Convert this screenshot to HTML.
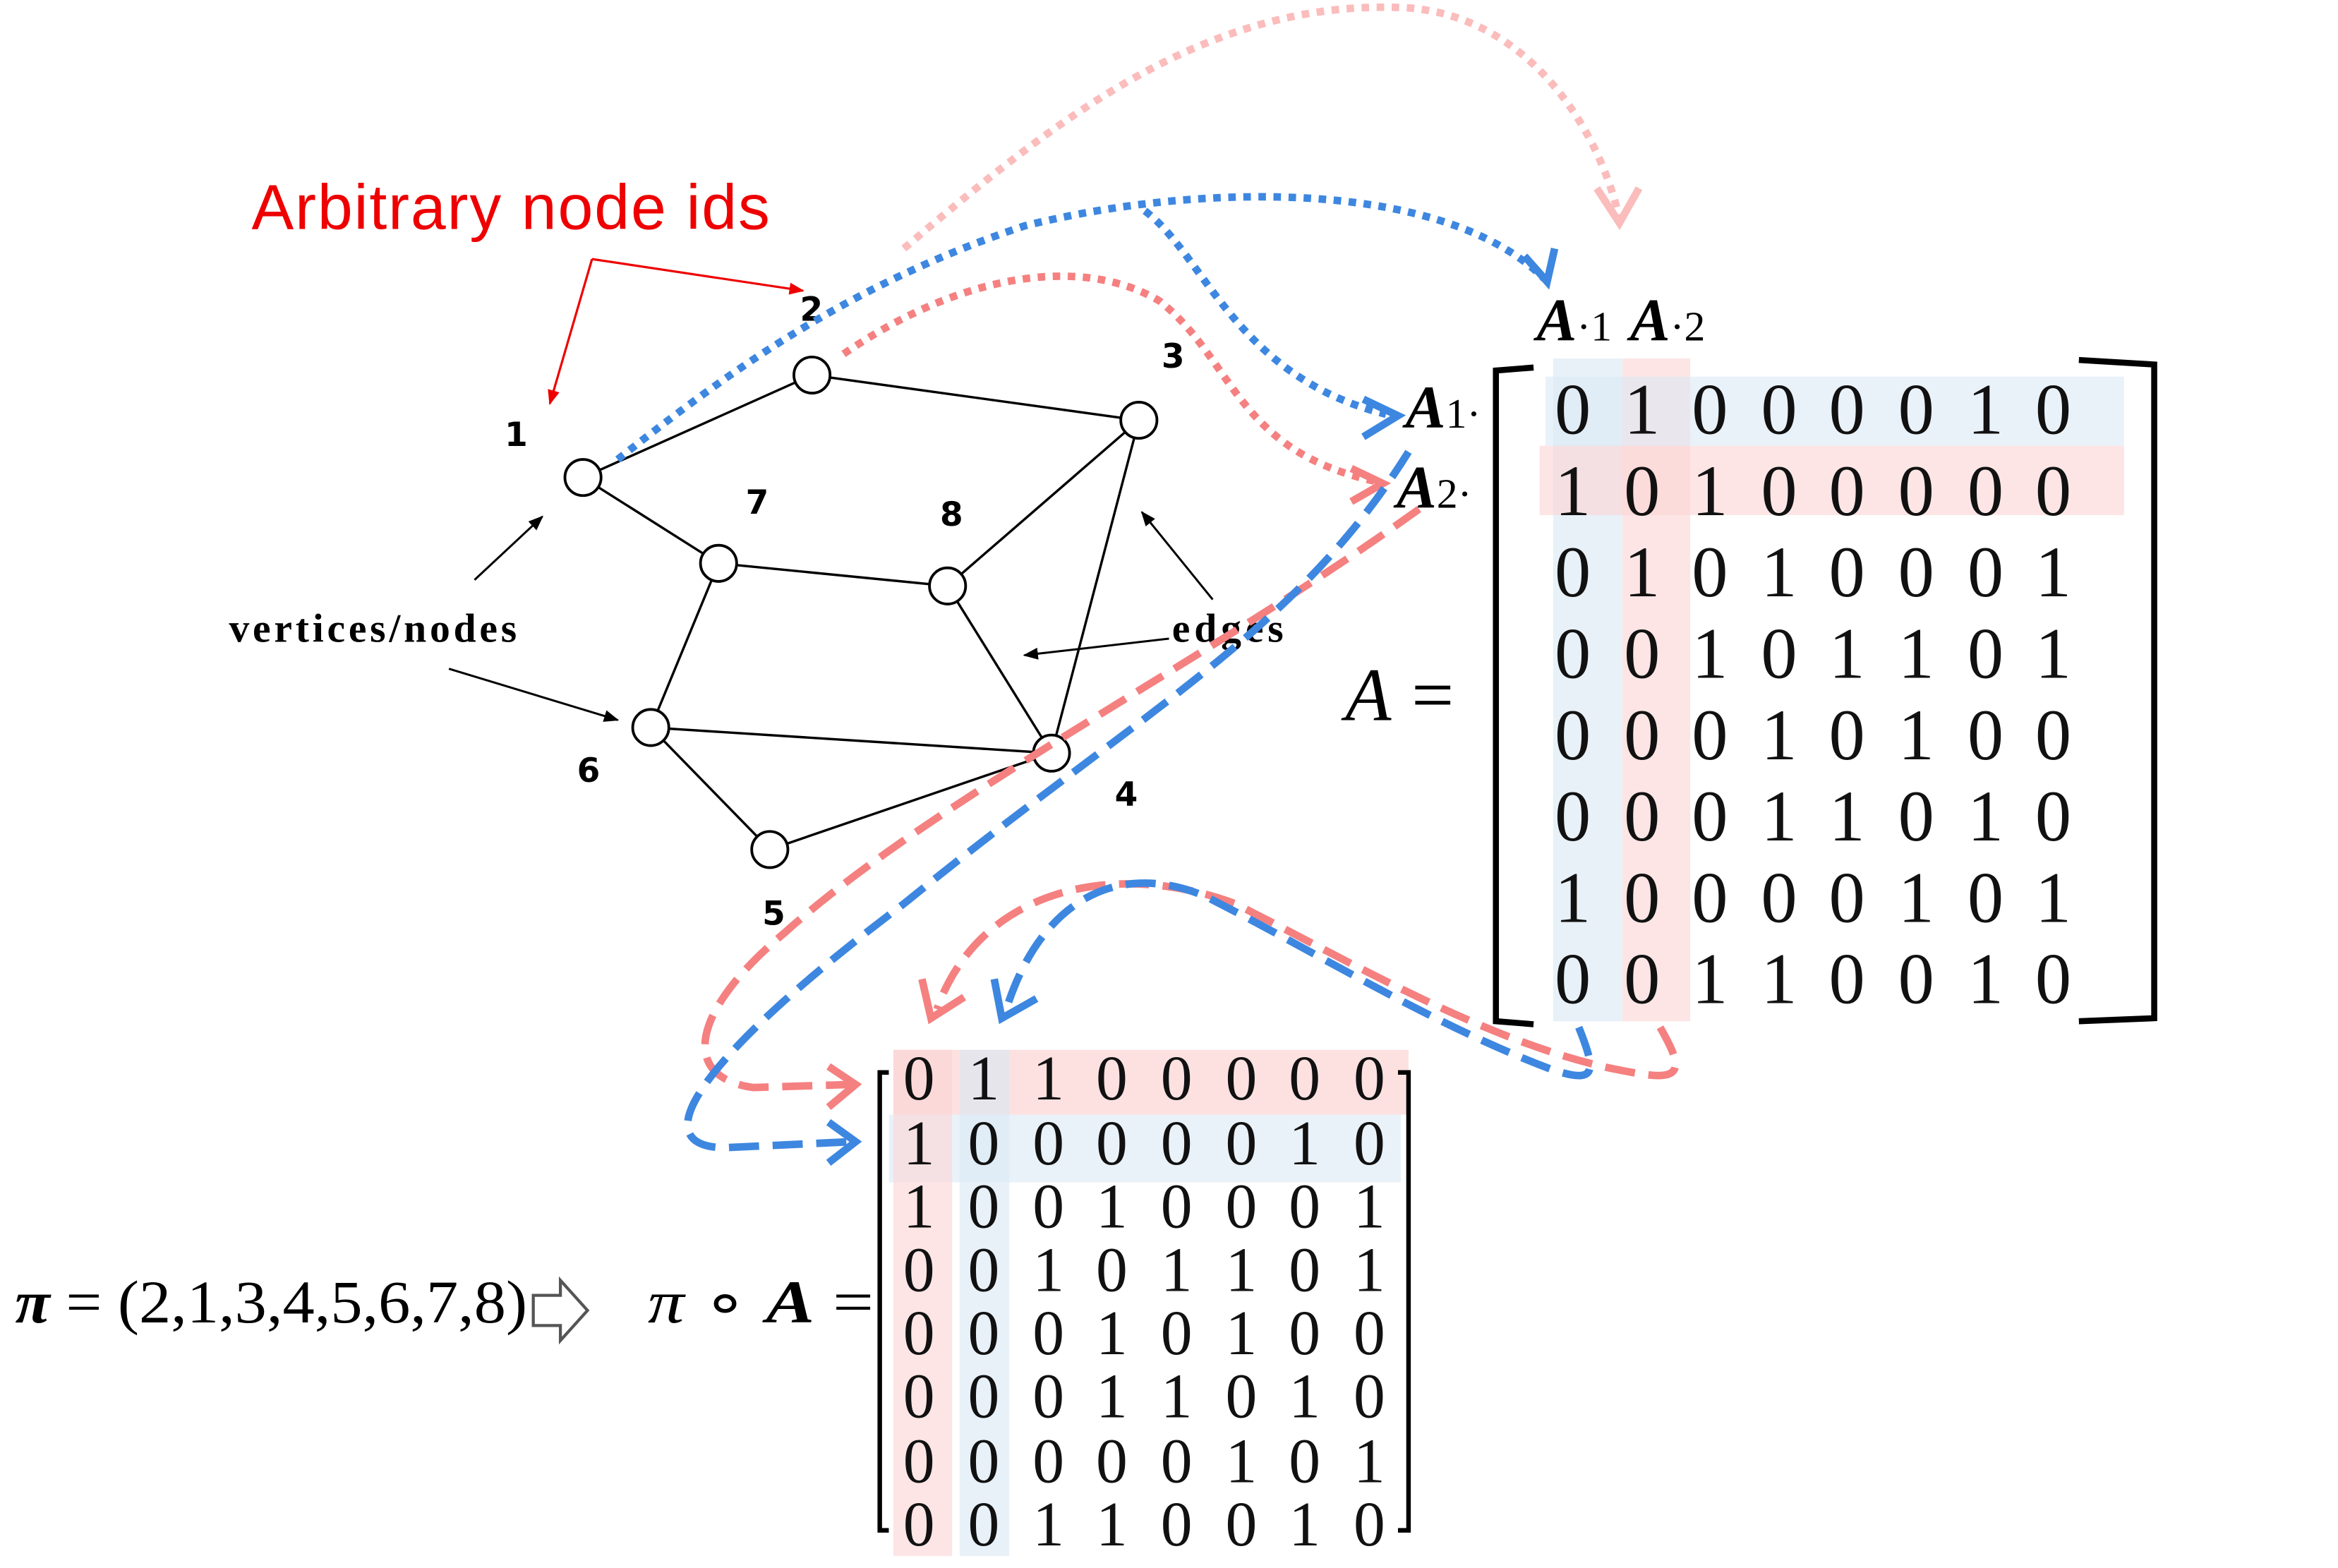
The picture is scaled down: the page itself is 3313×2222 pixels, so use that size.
<!DOCTYPE html>
<html><head><meta charset="utf-8"><style>html,body{margin:0;padding:0;background:#fff}svg{display:block}</style></head>
<body>
<svg xmlns="http://www.w3.org/2000/svg" width="3313" height="2222" viewBox="0 0 1552 1041" preserveAspectRatio="none">
<defs>
<marker id="ak" markerWidth="10" markerHeight="10" refX="9" refY="5" orient="auto" markerUnits="userSpaceOnUse"><path d="M0,1 L10,5 L0,9 z" fill="#000"/></marker>
<marker id="ar" markerWidth="10" markerHeight="10" refX="9" refY="5" orient="auto" markerUnits="userSpaceOnUse"><path d="M0,1 L10,5 L0,9 z" fill="#e00"/></marker>
</defs>
<rect x="1031" y="238" width="46" height="440" fill="#d8e8f4" opacity="0.6"/>
<rect x="1077" y="238" width="45" height="440" fill="#fcd4d4" opacity="0.6"/>
<rect x="1026" y="250" width="384" height="46" fill="#d8e8f4" opacity="0.55"/>
<rect x="1022" y="296" width="388" height="46" fill="#fcd4d4" opacity="0.6"/>
<rect x="593" y="697" width="342" height="43" fill="#fcd4d4" opacity="0.7"/>
<rect x="590" y="740" width="340" height="45" fill="#d8e8f4" opacity="0.55"/>
<rect x="593" y="697" width="39" height="336" fill="#fcd4d4" opacity="0.6"/>
<rect x="637" y="697" width="33" height="336" fill="#d8e8f4" opacity="0.6"/>

<g stroke="#000" stroke-width="1.6">
<line x1="387" y1="317" x2="539" y2="249"/><line x1="539" y1="249" x2="756" y2="279"/>
<line x1="387" y1="317" x2="477" y2="374"/><line x1="477" y1="374" x2="629" y2="389"/>
<line x1="629" y1="389" x2="756" y2="279"/><line x1="756" y1="279" x2="698" y2="500"/>
<line x1="629" y1="389" x2="698" y2="500"/><line x1="477" y1="374" x2="432" y2="483"/>
<line x1="432" y1="483" x2="698" y2="500"/><line x1="432" y1="483" x2="511" y2="564"/>
<line x1="511" y1="564" x2="698" y2="500"/>
</g>
<g fill="#fff" stroke="#000" stroke-width="1.8">
<circle cx="387" cy="317" r="12"/><circle cx="539" cy="249" r="12"/><circle cx="756" cy="279" r="12"/>
<circle cx="477" cy="374" r="12"/><circle cx="629" cy="389" r="12"/><circle cx="432" cy="483" r="12"/>
<circle cx="698" cy="500" r="12"/><circle cx="511" cy="564" r="12"/>
</g>
<g font-family="'DejaVu Sans',sans-serif" font-weight="bold" font-size="22">
<text x="335" y="296">1</text><text x="531" y="213">2</text><text x="771" y="244">3</text>
<text x="495" y="341">7</text><text x="624" y="349">8</text><text x="383" y="519">6</text>
<text x="740" y="535">4</text><text x="506" y="614">5</text>
</g>
<text x="167" y="152" font-family="'Liberation Sans',sans-serif" font-size="42" fill="#e00" textLength="344">Arbitrary node ids</text>
<g stroke="#e00" stroke-width="1.5" fill="none">
<polyline points="393,172 365,268" marker-end="url(#ar)"/><polyline points="393,172 533,193" marker-end="url(#ar)"/>
</g>
<g font-family="'Liberation Serif',serif" font-weight="bold" font-size="27">
<text x="152" y="426" textLength="191">vertices/nodes</text><text x="778" y="426" textLength="74">edges</text></g>
<g stroke="#000" stroke-width="1.4" fill="none">
<line x1="315" y1="385" x2="360" y2="343" marker-end="url(#ak)"/>
<line x1="298" y1="444" x2="410" y2="478" marker-end="url(#ak)"/>
<line x1="776" y1="424" x2="680" y2="435" marker-end="url(#ak)"/>
<line x1="805" y1="398" x2="758" y2="340" marker-end="url(#ak)"/>
</g>

<g fill="none" stroke-width="5" stroke-dasharray="5,5">
<path d="M600,165 C700,80 800,0 930,5 C1010,8 1060,80 1075,145" stroke="#fbbcbc"/>
<path d="M1060,125 L1075,148 L1088,125" stroke="#fbbcbc" stroke-dasharray="none"/>
<path d="M410,305 C480,250 560,190 680,150 C800,120 960,120 1025,185" stroke="#3d87e0"/>
<path d="M1012,170 L1027,187 L1032,165" stroke="#3d87e0" stroke-dasharray="none"/>
<path d="M760,140 C800,170 820,250 920,275" stroke="#3d87e0"/>
<path d="M905,265 L928,276 L905,290" stroke="#3d87e0" stroke-dasharray="none"/>
<path d="M560,235 C640,180 720,170 770,200 C820,240 820,300 915,320" stroke="#f58080"/>
<path d="M897,311 L918,321 L897,333" stroke="#f58080" stroke-dasharray="none"/>
</g>
<g fill="none" stroke-width="5" stroke-dasharray="20,9">
<path d="M942,338 C800,440 620,530 520,620 C460,670 450,715 500,722 L565,720" stroke="#f58080"/>
<path d="M550,708 L568,720 L550,735" stroke="#f58080" stroke-dasharray="none"/>
<path d="M935,300 C860,420 760,470 600,600 C480,690 420,760 480,762 L565,758" stroke="#3d87e0"/>
<path d="M550,745 L568,758 L550,772" stroke="#3d87e0" stroke-dasharray="none"/>
<path d="M1102,682 C1115,705 1120,718 1090,713 C1000,700 900,640 820,600 C740,570 650,590 622,670" stroke="#f58080"/>
<path d="M612,650 L618,676 L640,662" stroke="#f58080" stroke-dasharray="none"/>
<path d="M1048,682 C1060,712 1060,720 1030,710 C950,680 870,630 800,595 C740,570 690,600 668,670" stroke="#3d87e0"/>
<path d="M660,650 L665,676 L688,663" stroke="#3d87e0" stroke-dasharray="none"/>
</g>

<g font-family="'Liberation Serif',serif" font-weight="bold" font-style="italic" font-size="40">
<text x="1020" y="226">A<tspan font-size="28" font-weight="normal" font-style="normal">·1</tspan></text>
<text x="1082" y="226">A<tspan font-size="28" font-weight="normal" font-style="normal">·2</tspan></text>
<text x="933" y="284">A<tspan font-size="28" font-weight="normal" font-style="normal">1·</tspan></text>
<text x="927" y="337">A<tspan font-size="28" font-weight="normal" font-style="normal">2·</tspan></text>
</g>
<text x="893" y="478" font-family="'Liberation Serif',serif" font-style="italic" font-size="50">A</text>
<text x="937" y="478" font-family="'Liberation Serif',serif" font-size="50">=</text>
<path d="M1018,244 L993,246 L993,678 L1018,680" fill="none" stroke="#000" stroke-width="4"/>
<path d="M1380,239 L1430,242 L1430,676 L1380,678" fill="none" stroke="#000" stroke-width="4"/>
<g font-family="'Liberation Serif',serif" font-size="48" text-anchor="middle" fill="#111">
<text y="288"><tspan x="1044">0</tspan><tspan x="1090">1</tspan><tspan x="1135">0</tspan><tspan x="1181">0</tspan><tspan x="1226">0</tspan><tspan x="1272">0</tspan><tspan x="1318">1</tspan><tspan x="1363">0</tspan></text>
<text y="342"><tspan x="1044">1</tspan><tspan x="1090">0</tspan><tspan x="1135">1</tspan><tspan x="1181">0</tspan><tspan x="1226">0</tspan><tspan x="1272">0</tspan><tspan x="1318">0</tspan><tspan x="1363">0</tspan></text>
<text y="396"><tspan x="1044">0</tspan><tspan x="1090">1</tspan><tspan x="1135">0</tspan><tspan x="1181">1</tspan><tspan x="1226">0</tspan><tspan x="1272">0</tspan><tspan x="1318">0</tspan><tspan x="1363">1</tspan></text>
<text y="450"><tspan x="1044">0</tspan><tspan x="1090">0</tspan><tspan x="1135">1</tspan><tspan x="1181">0</tspan><tspan x="1226">1</tspan><tspan x="1272">1</tspan><tspan x="1318">0</tspan><tspan x="1363">1</tspan></text>
<text y="504"><tspan x="1044">0</tspan><tspan x="1090">0</tspan><tspan x="1135">0</tspan><tspan x="1181">1</tspan><tspan x="1226">0</tspan><tspan x="1272">1</tspan><tspan x="1318">0</tspan><tspan x="1363">0</tspan></text>
<text y="558"><tspan x="1044">0</tspan><tspan x="1090">0</tspan><tspan x="1135">0</tspan><tspan x="1181">1</tspan><tspan x="1226">1</tspan><tspan x="1272">0</tspan><tspan x="1318">1</tspan><tspan x="1363">0</tspan></text>
<text y="612"><tspan x="1044">1</tspan><tspan x="1090">0</tspan><tspan x="1135">0</tspan><tspan x="1181">0</tspan><tspan x="1226">0</tspan><tspan x="1272">1</tspan><tspan x="1318">0</tspan><tspan x="1363">1</tspan></text>
<text y="666"><tspan x="1044">0</tspan><tspan x="1090">0</tspan><tspan x="1135">1</tspan><tspan x="1181">1</tspan><tspan x="1226">0</tspan><tspan x="1272">0</tspan><tspan x="1318">1</tspan><tspan x="1363">0</tspan></text>
</g>

<path d="M590,712 L584,712 L584,1016 L590,1016" fill="none" stroke="#000" stroke-width="3"/>
<path d="M928,712 L935,712 L935,1016 L928,1016" fill="none" stroke="#000" stroke-width="3"/>
<g font-family="'Liberation Serif',serif" font-size="42" text-anchor="middle" fill="#111">
<text y="730"><tspan x="610">0</tspan><tspan x="653">1</tspan><tspan x="696">1</tspan><tspan x="738">0</tspan><tspan x="781">0</tspan><tspan x="824">0</tspan><tspan x="866">0</tspan><tspan x="909">0</tspan></text>
<text y="773"><tspan x="610">1</tspan><tspan x="653">0</tspan><tspan x="696">0</tspan><tspan x="738">0</tspan><tspan x="781">0</tspan><tspan x="824">0</tspan><tspan x="866">1</tspan><tspan x="909">0</tspan></text>
<text y="815"><tspan x="610">1</tspan><tspan x="653">0</tspan><tspan x="696">0</tspan><tspan x="738">1</tspan><tspan x="781">0</tspan><tspan x="824">0</tspan><tspan x="866">0</tspan><tspan x="909">1</tspan></text>
<text y="857"><tspan x="610">0</tspan><tspan x="653">0</tspan><tspan x="696">1</tspan><tspan x="738">0</tspan><tspan x="781">1</tspan><tspan x="824">1</tspan><tspan x="866">0</tspan><tspan x="909">1</tspan></text>
<text y="899"><tspan x="610">0</tspan><tspan x="653">0</tspan><tspan x="696">0</tspan><tspan x="738">1</tspan><tspan x="781">0</tspan><tspan x="824">1</tspan><tspan x="866">0</tspan><tspan x="909">0</tspan></text>
<text y="941"><tspan x="610">0</tspan><tspan x="653">0</tspan><tspan x="696">0</tspan><tspan x="738">1</tspan><tspan x="781">1</tspan><tspan x="824">0</tspan><tspan x="866">1</tspan><tspan x="909">0</tspan></text>
<text y="984"><tspan x="610">0</tspan><tspan x="653">0</tspan><tspan x="696">0</tspan><tspan x="738">0</tspan><tspan x="781">0</tspan><tspan x="824">1</tspan><tspan x="866">0</tspan><tspan x="909">1</tspan></text>
<text y="1026"><tspan x="610">0</tspan><tspan x="653">0</tspan><tspan x="696">1</tspan><tspan x="738">1</tspan><tspan x="781">0</tspan><tspan x="824">0</tspan><tspan x="866">1</tspan><tspan x="909">0</tspan></text>
</g>
<text x="10" y="878" font-family="'Liberation Serif',serif" font-size="40" textLength="340" lengthAdjust="spacingAndGlyphs"><tspan font-weight="bold" font-style="italic">π</tspan> = (2,1,3,4,5,6,7,8)</text>
<path d="M354,860 L372,860 L372,850 L390,870 L372,890 L372,880 L354,880 z" fill="#fff" stroke="#555" stroke-width="2"/>
<text x="430" y="878" font-family="'Liberation Serif',serif" font-size="40" textLength="150" lengthAdjust="spacingAndGlyphs"><tspan font-style="italic">π</tspan> ∘ <tspan font-weight="bold" font-style="italic">A</tspan> =</text>
</svg>
</body></html>
